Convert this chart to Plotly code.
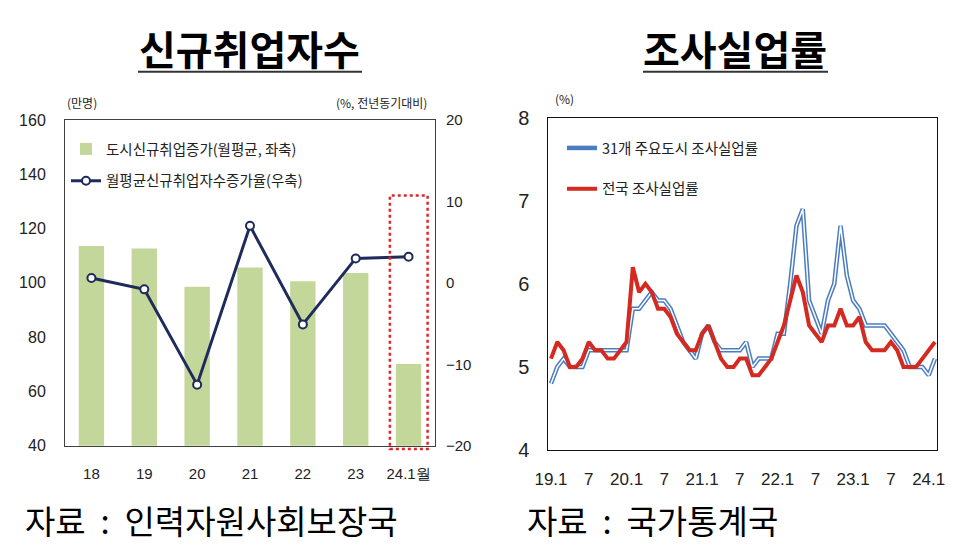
import plotly.graph_objects as go

# ---------------- data ----------------
years = ["18", "19", "20", "21", "22", "23", "24.1월"]
new_jobs = [113.6, 112.7, 98.6, 105.7, 100.6, 103.6, 70.1]      # 만명 (left axis)
growth = [0.6, -0.8, -12.5, 7.0, -5.1, 3.0, 3.2]                 # % yoy (right axis)

month_index = list(range(62))  # 19.1 ... 24.2
city_rate = [
    4.8, 5.0, 5.1, 5.0, 5.0, 5.0, 5.2, 5.2, 5.2, 5.2, 5.2, 5.2,   # 2019
    5.2, 5.7, 5.7, 5.8, 5.9, 5.8, 5.8, 5.7, 5.5, 5.3, 5.2, 5.1,   # 2020
    5.4, 5.5, 5.3, 5.2, 5.2, 5.2, 5.2, 5.3, 5.0, 5.1, 5.1, 5.1,   # 2021
    5.4, 5.4, 6.0, 6.7, 6.9, 5.8, 5.6, 5.4, 5.8, 6.0, 6.7, 6.1,   # 2022
    5.8, 5.7, 5.5, 5.5, 5.5, 5.5, 5.4, 5.3, 5.2, 5.0, 5.0, 5.0,   # 2023
    4.9, 5.1,                                                     # 2024
]
national_rate = [
    5.1, 5.3, 5.2, 5.0, 5.0, 5.1, 5.3, 5.2, 5.2, 5.1, 5.1, 5.2,
    5.3, 6.2, 5.9, 6.0, 5.9, 5.7, 5.7, 5.6, 5.4, 5.3, 5.2, 5.2,
    5.4, 5.5, 5.3, 5.1, 5.0, 5.0, 5.1, 5.1, 4.9, 4.9, 5.0, 5.1,
    5.3, 5.5, 5.8, 6.1, 5.9, 5.5, 5.4, 5.3, 5.5, 5.5, 5.7, 5.5,
    5.5, 5.6, 5.3, 5.2, 5.2, 5.2, 5.3, 5.2, 5.0, 5.0, 5.0, 5.1,
    5.2, 5.3,
]
month_tickvals = [0, 6, 12, 18, 24, 30, 36, 42, 48, 54, 60]
month_ticktext = ["19.1", "7", "20.1", "7", "21.1", "7", "22.1", "7", "23.1", "7", "24.1"]

# ---------------- style ----------------
KR = "Noto Sans CJK KR"
NUM = "Liberation Sans Narrow, Arial Narrow, Liberation Sans, sans-serif"
W, H = 979, 556
def px(x): return x / W
def py(y): return 1 - y / H
NB = "\u00a0"

fig = go.Figure()

fig.add_trace(go.Bar(
    x=years, y=new_jobs, name="도시신규취업증가(월평균, 좌축)",
    marker=dict(color="#c4d79b", line=dict(width=0)), width=0.48,
    xaxis="x", yaxis="y", legend="legend", legendgroup="a",
))
fig.add_trace(go.Scatter(
    x=years, y=growth, name="월평균신규취업자수증가율(우축)", mode="lines+markers",
    line=dict(color="#1f2b5b", width=3),
    marker=dict(size=8, color="white", line=dict(color="#1f2b5b", width=2)),
    xaxis="x", yaxis="y2", legend="legend", legendgroup="b",
))

fig.add_trace(go.Scatter(
    x=month_index, y=city_rate, name="31개 주요도시 조사실업률", mode="lines",
    line=dict(color="#4a7cc0", width=4.5),
    xaxis="x3", yaxis="y3", legend="legend2", legendgroup="c",
))
fig.add_trace(go.Scatter(
    x=month_index, y=city_rate, mode="lines", showlegend=False, hoverinfo="skip",
    line=dict(color="white", width=1.5),
    xaxis="x3", yaxis="y3", legend="legend2",
))
fig.add_trace(go.Scatter(
    x=month_index, y=national_rate, name="전국 조사실업률", mode="lines",
    line=dict(color="#d42a20", width=4),
    xaxis="x3", yaxis="y3", legend="legend2", legendgroup="d",
))

frame_l = "#404040"
fig.update_layout(
    width=W, height=H, autosize=False,
    margin=dict(l=0, r=0, t=0, b=0, pad=0, autoexpand=False),
    paper_bgcolor="white", plot_bgcolor="white",
    font=dict(family=KR, color="#222"),
    xaxis=dict(domain=[px(65), px(435)], type="category", range=[-0.5, 6.5],
               showline=True, mirror=True, linecolor=frame_l, linewidth=1,
               ticks="", showgrid=False, anchor="y", automargin=False,
               tickfont=dict(family=NUM, size=15, color="#222"), ticklabelstandoff=14),
    yaxis=dict(domain=[1 - 445.7 / H, 1 - 120 / H], range=[40, 160], dtick=20,
               showline=True, mirror=True, linecolor=frame_l, linewidth=1,
               ticks="", showgrid=False, zeroline=False, anchor="x", automargin=False,
               tickfont=dict(family=NUM, size=16, color="#222"), ticklabelstandoff=15),
    yaxis2=dict(overlaying="y", side="right", range=[-20, 20], dtick=10,
                showline=False, ticks="", showgrid=False, zeroline=False, anchor="x",
                automargin=False,
                tickfont=dict(family=NUM, size=15, color="#222"), ticklabelstandoff=10),
    xaxis3=dict(domain=[px(548.3), px(937.3)], range=[-0.43, 61.37],
                tickvals=month_tickvals, ticktext=month_ticktext,
                showline=True, mirror=True, linecolor="#111", linewidth=1,
                ticks="", showgrid=False, zeroline=False, anchor="y3", automargin=False,
                tickfont=dict(family=NUM, size=17, color="#222"), ticklabelstandoff=14),
    yaxis3=dict(domain=[1 - 450 / H, 1 - 117.7 / H], range=[4, 8], dtick=1,
                showline=True, mirror=True, linecolor="#111", linewidth=1,
                ticks="", showgrid=False, zeroline=False, anchor="x3", automargin=False,
                tickfont=dict(family=NUM, size=20, color="#222"), ticklabelstandoff=14),
    legend=dict(x=px(66), y=py(133), xanchor="left", yanchor="top",
                bgcolor="rgba(0,0,0,0)", font=dict(family=KR, size=14.5, color="#222"),
                tracegroupgap=10, itemwidth=30),
    legend2=dict(x=px(562), y=py(132), xanchor="left", yanchor="top",
                 bgcolor="rgba(0,0,0,0)", font=dict(family=KR, size=14.5, color="#222"),
                 tracegroupgap=19, itemwidth=30),
    bargap=0.5,
)

annotations = [
    dict(text="<b>신규취업자수</b>", x=px(249.5), y=py(48), font=dict(family=KR, size=40, color="black")),
    dict(text="<b>조사실업률</b>", x=px(734.5), y=py(48), font=dict(family=KR, size=40, color="black")),
    dict(text=f"자료{NB*2}:{NB*2}인력자원사회보장국", x=px(23), y=py(520), xanchor="left",
         font=dict(family=KR, size=33, color="black")),
    dict(text=f"자료{NB*2}:{NB*2}국가통계국", x=px(525), y=py(520), xanchor="left",
         font=dict(family=KR, size=33, color="black")),
    dict(text="(만명)", x=px(65), y=py(103), xanchor="left", font=dict(family=KR, size=12, color="#222")),
    dict(text="(%, 전년동기대비)", x=px(429), y=py(103), xanchor="right", font=dict(family=KR, size=12, color="#222")),
    dict(text="(%)", x=px(553), y=py(98), xanchor="left", font=dict(family=KR, size=12, color="#222")),
]
for a in annotations:
    a.setdefault("xanchor", "center")
    a.update(xref="paper", yref="paper", yanchor="middle", showarrow=False)
fig.update_layout(annotations=annotations)

fig.update_layout(shapes=[
    dict(type="line", xref="paper", yref="paper", x0=px(138), x1=px(362), y0=py(71.7), y1=py(71.7),
         line=dict(color="#333", width=2)),
    dict(type="line", xref="paper", yref="paper", x0=px(643), x1=px(828), y0=py(71.7), y1=py(71.7),
         line=dict(color="#333", width=2)),
    dict(type="rect", xref="x domain", yref="y domain", x0=0.878, x1=0.980, y0=-0.010, y1=0.768,
         line=dict(color="#e0262b", width=2.5, dash="dot"), fillcolor="rgba(0,0,0,0)"),
])

fig.write_html(
    "out.html",
    config={"displayModeBar": False},
    post_script="document.body.style.margin='0px';document.body.style.overflow='hidden';",
)
